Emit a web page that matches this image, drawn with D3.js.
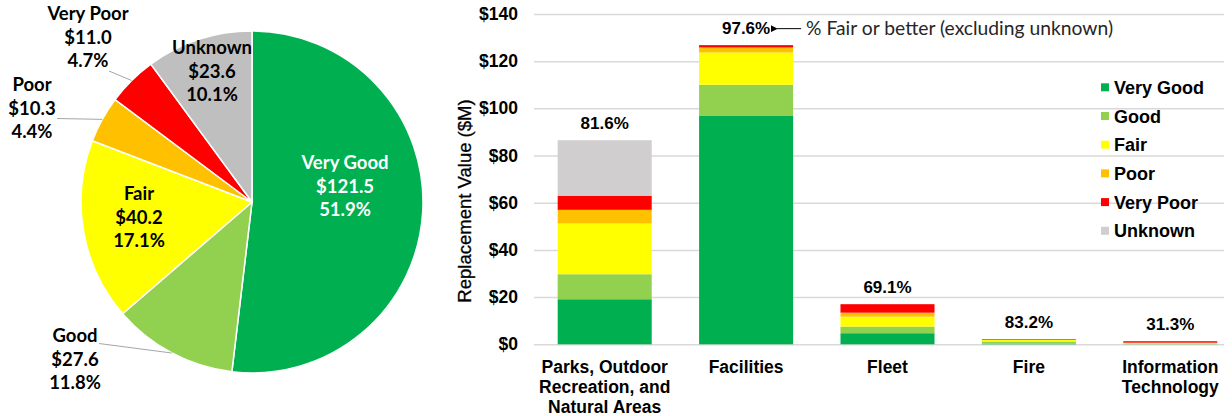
<!DOCTYPE html>
<html>
<head>
<meta charset="utf-8">
<script src="https://cdn.jsdelivr.net/npm/d3@7"></script>
<style>
  html, body { margin: 0; padding: 0; background: #fff; }
  svg { display: block; }
</style>
</head>
<body>
<svg id="chart" width="1232" height="416"></svg>
<script>
// ---------- DATA ----------
const conditions = ["Very Good", "Good", "Fair", "Poor", "Very Poor", "Unknown"];
const pieValues = [121.5, 27.6, 40.2, 10.3, 11.0, 23.6];
const pieValueLabels = ["$121.5", "$27.6", "$40.2", "$10.3", "$11.0", "$23.6"];
const piePctLabels = ["51.9%", "11.8%", "17.1%", "4.4%", "4.7%", "10.1%"];

const categories = ["Parks, Outdoor Recreation, and Natural Areas", "Facilities", "Fleet", "Fire", "Information Technology"];
const categoryLines = [["Parks, Outdoor", "Recreation, and", "Natural Areas"], ["Facilities"], ["Fleet"], ["Fire"], ["Information", "Technology"]];
const veryGood = [19.1, 97.0, 4.7, 0.3, 0.05];
const good     = [10.6, 13.0, 2.8, 0.9, 0.10];
const fair     = [21.5, 13.7, 4.2, 0.6, 0.26];
const poor     = [5.8, 2.1, 1.7, 0.1, 0.29];
const veryPoor = [6.0, 1.0, 3.6, 0.26, 0.60];
const unknown  = [23.5, 0, 0, 0, 0];
const fairOrBetterLabels = ["81.6%", "97.6%", "69.1%", "83.2%", "31.3%"];
const yTicks = [0, 20, 40, 60, 80, 100, 120, 140];
const annotationText = "% Fair or better (excluding unknown)";

// ---------- STYLE ----------
const pieColors = ["#00b050", "#92d050", "#ffff00", "#ffc000", "#ff0000", "#bfbfbf"];
const barColors = ["#00b050", "#92d050", "#ffff00", "#ffc000", "#ff0000", "#d0cece"];
const boldFont = "'Liberation Sans', Arial, sans-serif";
const pieFont = "Lato, 'Open Sans', sans-serif";

const svg = d3.select("#chart");

// ---------- PIE ----------
const cx = 252, cy = 202, R = 171;
const pie = d3.pie().sort(null).value(d => d)(pieValues);
const arc = d3.arc().innerRadius(0).outerRadius(R);
const gPie = svg.append("g").attr("transform", `translate(${cx},${cy})`);
gPie.selectAll("path").data(pie).join("path")
  .attr("d", arc)
  .attr("fill", (d, i) => pieColors[i])
  .attr("stroke", "#fff").attr("stroke-width", 1.5);

// label layout (relative to pie centre), Excel "best fit" placement
const pieLabelLayout = {
  "Very Good": { x: 93, y: -33, color: "#fff" },
  "Good":      { x: -177, y: 140, color: "#000", leader: [-153, 141.5] },
  "Fair":      { x: -113, y: -2, color: "#000" },
  "Poor":      { x: -220, y: -111, color: "#000", leader: [-195, -83.5] },
  "Very Poor": { x: -164, y: -182, color: "#000", leader: [-143, -131] },
  "Unknown":   { x: -40, y: -148, color: "#000" }
};
pie.forEach((d, i) => {
  const name = conditions[i];
  const L = pieLabelLayout[name];
  if (L.leader) {
    const mid = (d.startAngle + d.endAngle) / 2;
    const ex = R * Math.sin(mid), ey = -R * Math.cos(mid);
    gPie.append("line")
      .attr("x1", L.leader[0]).attr("y1", L.leader[1])
      .attr("x2", ex).attr("y2", ey)
      .attr("stroke", "#a6a6a6").attr("stroke-width", 1);
  }
  const t = gPie.append("text")
    .attr("text-anchor", "middle")
    .attr("font-family", pieFont).attr("font-weight", "bold")
    .attr("font-size", 18.5).attr("fill", L.color);
  [name, pieValueLabels[i], piePctLabels[i]].forEach((s, k) => {
    t.append("tspan").attr("x", L.x).attr("y", L.y + k * 23.5).text(s);
  });
});

// ---------- BARS ----------
const x0 = 534, x1 = 1241, gridRight = 1224;
const y = d3.scaleLinear().domain([0, 140]).range([344.3, 14]);
const x = d3.scaleBand().domain(categories).range([x0, x1]).paddingInner(0.335).paddingOuter(0.1675);

// gridlines + y axis
const yAxis = d3.axisLeft(y).tickValues(yTicks).tickFormat(d => "$" + d)
  .tickSizeInner(-(gridRight - x0)).tickSizeOuter(0).tickPadding(16);
const gy = svg.append("g").attr("transform", `translate(${x0},0)`).call(yAxis);
gy.select(".domain").remove();
gy.selectAll(".tick line").attr("stroke", "#d9d9d9").attr("stroke-width", 1.5);
gy.selectAll(".tick text").attr("font-family", boldFont).attr("font-weight", "bold")
  .attr("font-size", 17.5).attr("fill", "#000");

// y title
svg.append("text")
  .attr("transform", "translate(471,201) rotate(-90)")
  .attr("text-anchor", "middle")
  .attr("font-family", boldFont).attr("font-size", 18.5).attr("fill", "#000")
  .attr("stroke", "#000").attr("stroke-width", 0.3)
  .text("Replacement Value ($M)");

// stacked bars
const seriesArrays = [veryGood, good, fair, poor, veryPoor, unknown];
const rows = categories.map((c, i) => {
  const o = { category: c };
  conditions.forEach((k, j) => { o[k] = seriesArrays[j][i]; });
  return o;
});
const stacked = d3.stack().keys(conditions)(rows);
svg.append("g").selectAll("g").data(stacked).join("g")
  .attr("fill", (d, i) => barColors[i])
  .selectAll("rect").data(d => d).join("rect")
  .attr("x", d => x(d.data.category))
  .attr("width", x.bandwidth())
  .attr("y", d => y(d[1]))
  .attr("height", d => Math.max(0, y(d[0]) - y(d[1])));

// percent labels above bars
const totals = rows.map(r => d3.sum(conditions, k => r[k]));
svg.append("g").selectAll("text").data(categories).join("text")
  .attr("x", d => x(d) + x.bandwidth() / 2)
  .attr("y", (d, i) => y(totals[i]) - 11)
  .attr("text-anchor", "middle")
  .attr("font-family", boldFont).attr("font-weight", "bold")
  .attr("font-size", 17).attr("fill", "#000")
  .text((d, i) => fairOrBetterLabels[i]);

// x axis category labels
const xAxis = d3.axisBottom(x).tickSize(0).tickFormat("");
const gx = svg.append("g").attr("transform", `translate(0,${y(0)})`).call(xAxis);
gx.select(".domain").remove();
gx.selectAll(".tick").each(function (d, i) {
  const t = d3.select(this).append("text")
    .attr("text-anchor", "middle")
    .attr("font-family", boldFont).attr("font-weight", "bold")
    .attr("font-size", 17.5).attr("fill", "#000");
  categoryLines[i].forEach((s, k) => {
    t.append("tspan").attr("x", 0).attr("y", 29 + k * 20).text(s);
  });
});

// annotation with arrow
const facX = x(categories[1]) + x.bandwidth() / 2;
const annY = y(totals[1]) - 16.5;
svg.append("defs").append("marker")
  .attr("id", "arrow").attr("viewBox", "0 0 10 10")
  .attr("refX", 1).attr("refY", 5)
  .attr("markerWidth", 7).attr("markerHeight", 7)
  .attr("orient", "auto-start-reverse")
  .append("path").attr("d", "M0,5 L10,0 L10,10 Z").attr("fill", "#000");
svg.append("line")
  .attr("x1", facX + 55).attr("y1", annY)
  .attr("x2", facX + 31).attr("y2", annY)
  .attr("stroke", "#000").attr("stroke-width", 1)
  .attr("marker-end", "url(#arrow)");
svg.append("text")
  .attr("x", facX + 60).attr("y", annY + 6.5)
  .attr("font-family", pieFont).attr("font-size", 19.3).attr("fill", "#262626")
  .text(annotationText);

// legend
const legend = svg.append("g").selectAll("g").data(conditions).join("g")
  .attr("transform", (d, i) => `translate(1101,${87.3 + i * 28.7})`);
legend.append("rect").attr("x", 0).attr("y", -4).attr("width", 8).attr("height", 8)
  .attr("fill", (d, i) => barColors[i]);
legend.append("text").attr("x", 13).attr("y", 6.5)
  .attr("font-family", boldFont).attr("font-weight", "bold")
  .attr("font-size", 18).attr("fill", "#000")
  .text(d => d);
</script>
</body>
</html>
